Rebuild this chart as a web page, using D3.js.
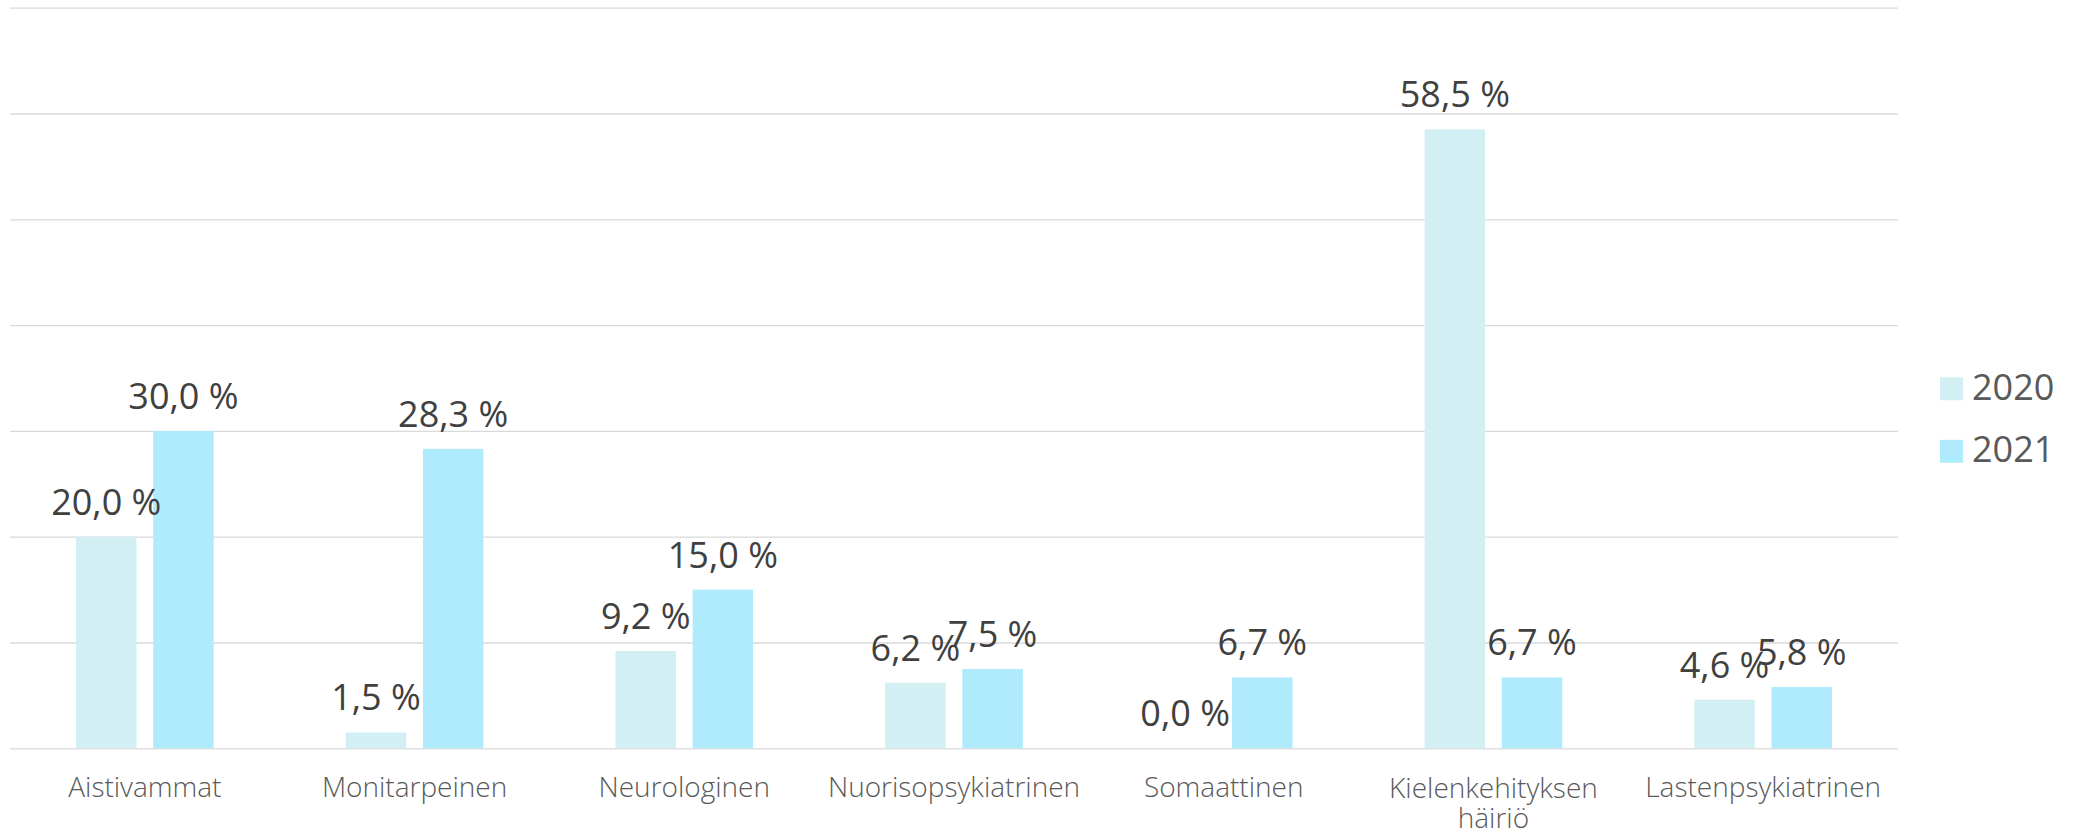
<!DOCTYPE html>
<html><head><meta charset="utf-8">
<script src="https://cdn.jsdelivr.net/npm/d3@7"></script>
<style>body{margin:0;background:#fff;} text{font-family:"Open Sans",sans-serif;}</style>
</head><body><svg id="c" width="2075" height="838"></svg>
<script>
const categories = ["Aistivammat","Monitarpeinen","Neurologinen","Nuorisopsykiatrinen","Somaattinen","Kielenkehityksen häiriö","Lastenpsykiatrinen"];
const seriesNames = ["2020","2021"];
const values2020 = [20.0,1.5,9.2,6.2,0.0,58.5,4.6];
const values2021 = [30.0,28.3,15.0,7.5,6.7,6.7,5.8];
const yTicks = [0,10,20,30,40,50,60,70];
const colors = ["#D2F0F3","#B0EBFD"];

const seriesValues = [values2020, values2021];
const svg = d3.select("#c");
const plotLeft = 10, plotRight = 1898, plotTop = 7.7, plotBottom = 748.3;
const x0 = d3.scaleBand().domain(categories).range([plotLeft, plotRight]).padding(0);
const groupW = 137.7;
const x1 = d3.scaleBand().domain(seriesNames).range([0, groupW]).paddingInner(0.216);
const y = d3.scaleLinear().domain([0, 70]).range([plotBottom, plotTop]);

// gridlines
const grid = svg.append("g").attr("transform", `translate(${plotLeft},0)`)
  .call(d3.axisLeft(y).tickValues(yTicks).tickSize(-(plotRight - plotLeft)).tickFormat(""));
grid.select(".domain").remove();
grid.selectAll("line").attr("stroke", "#d9d9d9").attr("stroke-width", 1.3);

// bars
const off = (x0.bandwidth() - groupW) / 2;
seriesNames.forEach((s, i) => {
  svg.append("g").selectAll("rect").data(categories).join("rect")
    .attr("x", c => x0(c) + off + x1(s))
    .attr("width", x1.bandwidth())
    .attr("y", (c, j) => y(seriesValues[i][j]))
    .attr("height", (c, j) => y(0) - y(seriesValues[i][j]))
    .attr("fill", colors[i]);
});

// data labels
const fmt = v => d3.format(".1f")(v).replace(".", ",") + " %";
seriesNames.forEach((s, i) => {
  svg.append("g").selectAll("text").data(categories).join("text")
    .attr("x", c => x0(c) + off + x1(s) + x1.bandwidth() / 2)
    .attr("y", (c, j) => y(seriesValues[i][j]) - 22)
    .attr("text-anchor", "middle")
    .attr("font-size", 36)
    .attr("fill", "#404040")
    .text((c, j) => fmt(seriesValues[i][j]));
});

// category axis
const xAxis = svg.append("g").attr("transform", `translate(0,${plotBottom})`)
  .call(d3.axisBottom(x0).tickSize(0));
xAxis.select(".domain").remove();
xAxis.selectAll("text")
  .attr("font-size", 28).attr("fill", "#595959").attr("font-family", "Open Sans")
  .attr("font-weight", 300)
  .attr("y", 49).attr("dy", 0)
  .each(function(d) {
    const t = d3.select(this);
    const words = d.split(" ");
    const maxW = x0.bandwidth() - 10;
    t.text(null);
    let line = [];
    let tsp = t.append("tspan").attr("x", 0);
    words.forEach(w => {
      line.push(w);
      tsp.text(line.join(" "));
      if (tsp.node().getComputedTextLength() > maxW && line.length > 1) {
        line.pop();
        tsp.text(line.join(" "));
        line = [w];
        tsp = t.append("tspan").attr("x", 0).attr("dy", 30).text(w);
      }
    });
    if (t.selectAll("tspan").size() > 1) t.attr("y", 50);
  });

// legend
const legend = svg.append("g");
seriesNames.forEach((s, i) => {
  legend.append("rect").attr("x", 1940).attr("y", 377.3 + i * 62.5)
    .attr("width", 23).attr("height", 23).attr("fill", colors[i]);
  legend.append("text").attr("x", 1972).attr("y", 400 + i * 62)
    .attr("font-size", 36).attr("fill", "#595959").text(s);
});
</script></body></html>
